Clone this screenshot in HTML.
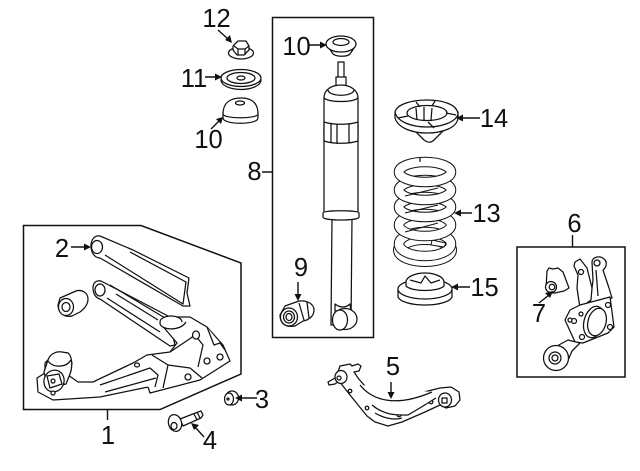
<!DOCTYPE html>
<html><head><meta charset="utf-8"><style>
html,body{margin:0;padding:0;background:#fff;width:640px;height:471px;overflow:hidden}
svg{display:block}
text{font-family:"Liberation Sans",sans-serif;font-size:25.500px;fill:#111;text-anchor:middle}
.p path,.p ellipse,.p circle,.p polygon,.p rect{fill:#fff;stroke:#111;stroke-width:1.250;stroke-linejoin:round}
.b{fill:#fff;stroke:#111;stroke-width:1.500}
.l{stroke:#111;stroke-width:1.400;fill:none}
.h{fill:#111;stroke:none}
</style></head><body>
<svg width="640" height="471" viewBox="0 0 640 471" xmlns="http://www.w3.org/2000/svg">
<polygon class="b" points="23.5,225.5 141,225.5 241,263 241,374 160,409.5 23.5,409.5"/>
<polygon class="b" points="272.5,17.5 373.5,17.5 373.5,337.5 272.5,337.5"/>
<rect class="b" x="517" y="247" width="108" height="130"/>
<path class="l" d="M107.500 410V420M262 172H272M572.500 235V247"/>

<!-- part 2 -->
<g class="p">
<path d="M91 246C91 239 95 235 100 236L133 250L189 278L187 293L190 306L183 306L100 258C95 258 91 253 91 246Z"/>
<ellipse cx="97" cy="247" rx="5.500" ry="6.500"/>
<path fill="none" d="M105 255L183 304L186 282L130 252"/>
</g>
<!-- upper arm -->
<g class="p">
<path d="M93 288C93 282 97 280 101 281L168 316L175 345L170 346L100 299C96 298 93 294 93 288Z"/>
<ellipse cx="100" cy="290" rx="5" ry="6"/>
<path d="M110 285L165 318M107 298L160 332M116 294L158 320"/>
</g>
<!-- bushing -->
<g class="p">
<path d="M60 298L76 291C82 289 88 293 88 299C88 305 84 309 80 312L72 316C64 318 58 312 58 305Z"/>
<ellipse cx="66" cy="307" rx="7.500" ry="8.500"/>
<ellipse cx="66" cy="307" rx="4" ry="4.500"/>
</g>
<!-- lower control arm -->
<g class="p">
<path d="M37 378L38 392L53 400L100 397L148 387L150 393L200 380L230 361L223 345L207 327L190 317L170 317L160 323L177 343L170 352L147 355L133 363L93 382L78 382L68 375L72 363L68 353L55 353L45 363L45 373Z"/>
<ellipse cx="171" cy="322" rx="11" ry="6"/>
<path d="M160 323C160 330 180 332 186 322"/>
<path d="M152 355L168 365L163 388M168 365L190 368L202 378M188 340L195 335L203 345L198 367M170 352L188 340M207 327L214 345L220 343L225 350"/>
<path d="M100 385L150 368L158 375L155 387M105 392L156 378"/>
<ellipse cx="196" cy="335" rx="3.500" ry="4"/><ellipse cx="207" cy="361" rx="3" ry="3"/><ellipse cx="220" cy="357" rx="3" ry="3"/><ellipse cx="188" cy="377" rx="3" ry="3"/><ellipse cx="137" cy="365" rx="2.500" ry="2"/>
<path d="M48 360C50 354 56 351 62 352L68 353C72 356 73 366 70 374L66 384L48 388L44 372Z"/>
<path d="M47 352M48 361C53 368 66 368 71 360"/>
<ellipse cx="54" cy="381" rx="10" ry="11" transform="rotate(20 54 381)"/>
<path d="M47 376L59 374L62 384L50 388Z"/>
<circle cx="53" cy="381" r="2"/><circle cx="53" cy="393" r="2"/>
</g>
<!-- 3 -->
<g class="p"><ellipse cx="232" cy="398" rx="6.500" ry="7"/><ellipse cx="229" cy="399" rx="4.500" ry="6"/><circle cx="228" cy="399" r="1"/></g>
<!-- 4 -->
<g class="p"><path d="M180 419L198 412L201 411L203 415L201 418L183 426Z"/>
<path d="M197 412L200 418M194 414L197 420" />
<ellipse cx="175" cy="423" rx="6.500" ry="8.500" transform="rotate(-15 175 423)"/><ellipse cx="174" cy="426" rx="3" ry="3.500"/></g>
<!-- 12 -->
<g class="p"><ellipse cx="241" cy="53" rx="12.500" ry="6"/><path d="M233 46L238 41L246 41L249 46L249 50L244 55L237 55L233 50Z"/><path d="M234 46L238 49L245 49L249 46M238 49V55M245 49V55"/></g>
<!-- 11 -->
<g class="p"><ellipse cx="241" cy="80" rx="20" ry="9.500"/><ellipse cx="241" cy="78" rx="20" ry="8.500"/><ellipse cx="241" cy="78" rx="14" ry="5.500"/><ellipse cx="241" cy="78" rx="4" ry="2"/></g>
<!-- 10 left -->
<g class="p"><path d="M223 112V118C223 125 258 125 258 118V112Z"/><path d="M223 114C223 103 230 98 241 98C252 98 258 103 258 114C258 119 223 119 223 114Z"/><ellipse cx="240" cy="103" rx="4.500" ry="2"/></g>
<!-- 10 shock -->
<g class="p"><path d="M329 48L333 54C337 57 347 57 350 54L354 48Z"/><ellipse cx="341" cy="44" rx="15" ry="8"/><ellipse cx="341" cy="42" rx="8" ry="3.500"/></g>

<!-- shock -->
<g class="p">
<rect x="338" y="62" width="6" height="16"/>
<path d="M336 77H346V88H336Z"/>
<path d="M331 325L332 218H352L351 325Z"/>
<path d="M324 98C324 90 331 85 341 85C350 85 358 90 358 98V213C358 216 324 216 324 213Z"/>
<path fill="none" d="M328 90C329 97 353 97 354 90"/>
<path fill="none" d="M324 97C324 103 358 103 358 97"/>
<path d="M324 122C333 125 349 125 358 122V141C349 144 333 144 324 141Z"/>
<path d="M331 124V143M337 124V144M349 124V143"/>
<path d="M323 213C323 210 359 210 359 213V217C359 221 323 221 323 217Z"/>
<path d="M335 304C340 308 346 308 350 304L351 311H335Z"/>
<ellipse cx="345" cy="319" rx="12" ry="10.500"/>
<ellipse cx="340" cy="320" rx="7.500" ry="10"/>
</g>
<!-- bushing 9 -->
<g class="p">
<path d="M285 306L299 301C307 300 314 304 314 310C314 316 309 320 303 321L295 326C284 328 280 322 280 315Z"/>
<ellipse cx="289" cy="317" rx="8.500" ry="9"/><ellipse cx="289" cy="317" rx="5.500" ry="6"/><ellipse cx="289" cy="317" rx="3" ry="3.500"/>
<path d="M299 303L304 320M307 302L309 318"/>
</g>

<!-- 14 -->
<g class="p">
<path d="M410 126L424 140C428 143 431 143 434 140L448 126Z"/>
<path d="M395 112V118C398 128 412 133 427 133C442 133 457 128 458 118V112Z"/>
<path d="M395 112C397 104 412 100 427 100C442 100 457 104 458 114C456 122 442 127 427 127C412 127 397 122 395 112Z"/>
<ellipse cx="427" cy="113" rx="20" ry="7.500"/>
<path d="M416 108L417 120M424 107L424 120M432 108L431 120M416 102L420 107M435 101L432 106M398 118L408 116M456 115L446 113M428 122L434 128"/>
</g>

<!-- spring -->
<g fill="none">
<ellipse cx="425" cy="250" rx="26" ry="11" stroke="#111" stroke-width="12"/>
<ellipse cx="425" cy="250" rx="26" ry="11" stroke="#fff" stroke-width="10"/>
<ellipse cx="425" cy="244" rx="26" ry="12" stroke="#111" stroke-width="10.500"/>
<ellipse cx="425" cy="244" rx="26" ry="12" stroke="#fff" stroke-width="8.500"/>
<path d="M432 240L446 243L444 247L431 245Z" fill="#fff" stroke="#111" stroke-width="1"/>
<ellipse cx="425" cy="225" rx="26" ry="11" stroke="#111" stroke-width="10.500"/>
<ellipse cx="425" cy="225" rx="26" ry="11" stroke="#fff" stroke-width="8.500"/>
<path d="M405 232L438 223" stroke="#111" stroke-width="1"/>
<ellipse cx="425" cy="207" rx="26" ry="10" stroke="#111" stroke-width="10.500"/>
<ellipse cx="425" cy="207" rx="26" ry="10" stroke="#fff" stroke-width="8.500"/>
<path d="M405 213L438 205" stroke="#111" stroke-width="1"/>
<ellipse cx="425" cy="190" rx="26" ry="10" stroke="#111" stroke-width="10.500"/>
<ellipse cx="425" cy="190" rx="26" ry="10" stroke="#fff" stroke-width="8.500"/>
<path d="M405 196L438 188" stroke="#111" stroke-width="1"/>
<ellipse cx="425" cy="172" rx="26" ry="10" stroke="#111" stroke-width="10.500"/>
<ellipse cx="425" cy="172" rx="26" ry="10" stroke="#fff" stroke-width="8.500"/>
<path d="M420 157V162" stroke="#111" stroke-width="1.200"/>
</g>

<!-- 15 -->
<g class="p">
<path d="M398 290V297C400 302 412 305 425 305C438 305 450 302 452 297V290Z"/>
<ellipse cx="425" cy="289" rx="27" ry="10"/>
<path d="M406 282C406 277 415 273 425 273C435 273 444 277 444 282V286C438 292 412 292 406 286Z"/>
<path d="M410 280L421 283L425 276L431 283L440 280"/>
</g>

<!-- 7 -->
<g class="p">
<path d="M547 271L549 268L553 269L558 268L563 272L569 288L564 291L555 293H550L546 288Z"/>
<circle cx="551" cy="287" r="5.500"/><circle cx="552" cy="287" r="2.800"/>
</g>
<!-- 6 knuckle -->
<g class="p">
<path d="M592 262C592 257 600 255 604 259C608 262 606 268 603 270L609 288L612 298L590 304L593 280Z"/>
<circle cx="597" cy="263" r="3"/>
<path d="M596 270L598 296"/>
<path d="M575 262L580 259L587 268L592 288L591 300L580 308L577 288L578 275L574 266Z"/>
<circle cx="581" cy="272" r="2.500"/>
<path d="M570 310L580 305L610 297L614 327L608 333L583 343L575 342L565 320Z"/>
<ellipse cx="594" cy="322" rx="10" ry="16" transform="rotate(15 594 322)"/>
<ellipse cx="597" cy="322" rx="9" ry="14" transform="rotate(15 597 322)"/>
<circle cx="608" cy="305" r="2.500"/><circle cx="610" cy="327" r="2.500"/><circle cx="582" cy="337" r="2.500"/><circle cx="574" cy="321" r="2.500"/><circle cx="581" cy="314" r="2"/><circle cx="570" cy="320" r="2"/>
<path d="M557 346L568 340L580 343L572 351L566 365L558 368Z"/>
<ellipse cx="556" cy="358" rx="12.500" ry="12.500"/>
<ellipse cx="555" cy="358" rx="6" ry="6"/><circle cx="555" cy="358" r="3"/>
</g>

<!-- 5 -->
<g class="p">
<path d="M328 382L335 378L338 372L340 366L350 364L352 366L358 364L361 366L359 371L354 372L358 378L370 392L392 400L412 395L440 388L451 387L459 392L460 400L455 406L446 408L440 405L425 412L402 422L388 426L375 422L367 416L350 395L339 381L335 384L329 385Z"/>
<ellipse cx="341" cy="377" rx="6" ry="6.500"/>
<circle cx="339" cy="378" r="2"/>
<ellipse cx="445" cy="400" rx="6.500" ry="7"/>
<rect x="442" y="398" width="5" height="5"/>
<circle cx="350" cy="391" r="1.800"/><circle cx="367" cy="408" r="1.800"/><circle cx="399" cy="415" r="1.800"/><circle cx="431" cy="402" r="1.800"/>
<path fill="none" d="M360 385C372 400 395 408 432 392M372 405C385 416 398 415 408 415C420 408 425 405 436 398M375 413C385 419 395 420 402 418"/>
</g>

<!-- leaders -->
<path class="l" d="M71 247H86M240 398H257M204 437L195 427M218 30L228 39M205 77H217M211 129L220 120M308 45H322M298 282V296M460 118H480M472 213H459M470 287H456M391 382V394M539 303L549 295"/>
<path class="h" d="M91 247L84 243.500V250.500ZM235 398L242 394.500V401.500ZM191 423L194 430L199 425ZM232 43L225 40L230 35ZM222 77L215 73.500V80.500ZM223 117L221 124L216 119ZM327 45L320 41.500V48.500ZM298 301L294.500 294H301.500ZM456 118L463 114.500V121.500ZM454 213L461 209.500V216.500ZM451 287L458 283.500V290.500ZM391 399L387.500 392H394.500ZM553 291L550 298L545 293Z"/>

<text x="216.500" y="27">12</text>
<text x="194" y="87">11</text>
<text x="208.500" y="148">10</text>
<text x="296.500" y="55">10</text>
<text x="254.500" y="180">8</text>
<text x="301" y="276">9</text>
<text x="62" y="257">2</text>
<text x="262" y="408">3</text>
<text x="210" y="449">4</text>
<text x="108" y="444">1</text>
<text x="393" y="375">5</text>
<text x="574.500" y="232">6</text>
<text x="539" y="322">7</text>
<text x="494" y="127">14</text>
<text x="486.500" y="222">13</text>
<text x="484.500" y="296">15</text>
</svg>
</body></html>
